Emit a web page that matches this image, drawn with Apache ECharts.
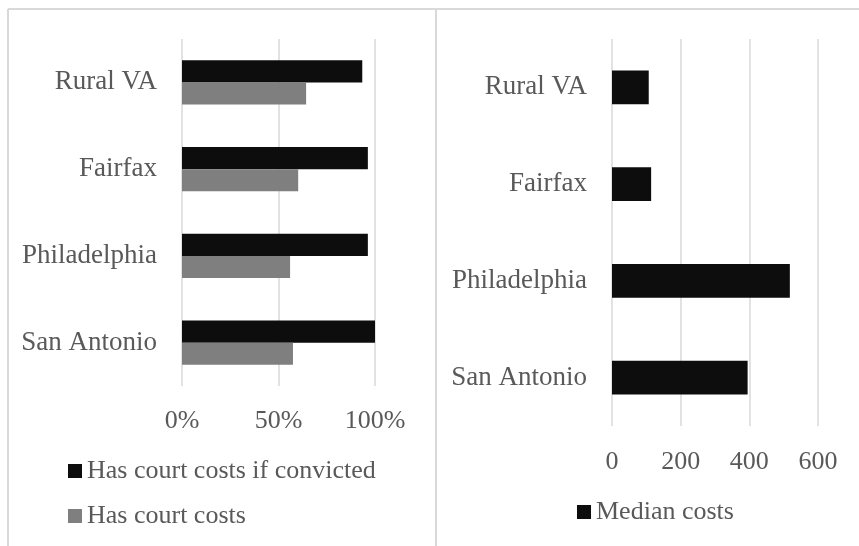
<!DOCTYPE html>
<html>
<head>
<meta charset="utf-8">
<script src="https://cdn.jsdelivr.net/npm/echarts@6/dist/echarts.min.js"></script>
<style>
html,body{margin:0;padding:0;background:#fff;}
#c{width:859px;height:546px;}
</style>
</head>
<body>
<div id="c"></div>
<script>
// Data
var categories = ['Rural VA', 'Fairfax', 'Philadelphia', 'San Antonio'];
var convictedShare = [93.4, 96.3, 96.3, 100];
var courtCostShare = [64.3, 60.2, 56, 57.5];
var medianCosts = [107, 114, 518, 395];
var pctTicks = [0, 50, 100];
var costTicks = [0, 200, 400, 600];
var seriesNames = ['Has court costs if convicted', 'Has court costs', 'Median costs'];

var FONT = "'Liberation Serif', 'Times New Roman', serif";
var TXT = '#595959';
var GRID = '#d9d9d9';

var chart = echarts.init(document.getElementById('c'), null, {renderer: 'canvas'});

function catAxis(idx, margin) {
  return {
    type: 'category', gridIndex: idx, data: categories, inverse: true,
    axisLine: {show: false}, axisTick: {show: false},
    axisLabel: {color: TXT, fontFamily: FONT, fontSize: 27, margin: margin}
  };
}

var legendText = {color: TXT, fontFamily: FONT, fontSize: 26};

chart.setOption({
  animation: false,
  backgroundColor: '#fff',
  textStyle: {fontFamily: FONT},
  graphic: [
    {type: 'line', shape: {x1: 8, y1: 9, x2: 859, y2: 9}, style: {stroke: GRID, lineWidth: 2}},
    {type: 'line', shape: {x1: 8, y1: 9, x2: 8, y2: 546}, style: {stroke: GRID, lineWidth: 2}},
    {type: 'line', shape: {x1: 436, y1: 9, x2: 436, y2: 546}, style: {stroke: GRID, lineWidth: 2}}
  ],
  grid: [
    {left: 182, right: 484, top: 39, bottom: 160},
    {left: 612, right: 41, top: 39, bottom: 120}
  ],
  xAxis: [
    {
      type: 'value', gridIndex: 0, min: pctTicks[0], max: pctTicks[pctTicks.length - 1], interval: 50,
      axisLine: {show: false}, axisTick: {show: false},
      splitLine: {show: true, lineStyle: {color: GRID, width: 1.5}},
      axisLabel: {color: TXT, fontFamily: FONT, fontSize: 26, margin: 22, formatter: '{value}%'}
    },
    {
      type: 'value', gridIndex: 1, min: costTicks[0], max: costTicks[costTicks.length - 1], interval: 200,
      axisLine: {show: false}, axisTick: {show: false},
      splitLine: {show: true, lineStyle: {color: GRID, width: 1.5}},
      axisLabel: {color: TXT, fontFamily: FONT, fontSize: 26, margin: 23}
    }
  ],
  yAxis: [catAxis(0, 25), catAxis(1, 25)],
  legend: [
    {data: [seriesNames[0]], left: 68, top: 458, padding: 0, itemWidth: 14, itemHeight: 14, icon: 'rect',
     textStyle: legendText},
    {data: [seriesNames[1]], left: 68, top: 503, padding: 0, itemWidth: 14, itemHeight: 14, icon: 'rect',
     textStyle: legendText},
    {data: [seriesNames[2]], left: 577, top: 499, padding: 0, itemWidth: 14, itemHeight: 14, icon: 'rect',
     textStyle: legendText}
  ],
  series: [
    {name: seriesNames[0], type: 'bar', xAxisIndex: 0, yAxisIndex: 0, data: convictedShare,
     barGap: '0%', barCategoryGap: '49%', itemStyle: {color: '#0d0d0d'}},
    {name: seriesNames[1], type: 'bar', xAxisIndex: 0, yAxisIndex: 0, data: courtCostShare,
     barGap: '0%', barCategoryGap: '49%', itemStyle: {color: '#7f7f7f'}},
    {name: seriesNames[2], type: 'bar', xAxisIndex: 1, yAxisIndex: 1, data: medianCosts,
     barCategoryGap: '65%', itemStyle: {color: '#0d0d0d'}}
  ]
});
</script>
</body>
</html>
